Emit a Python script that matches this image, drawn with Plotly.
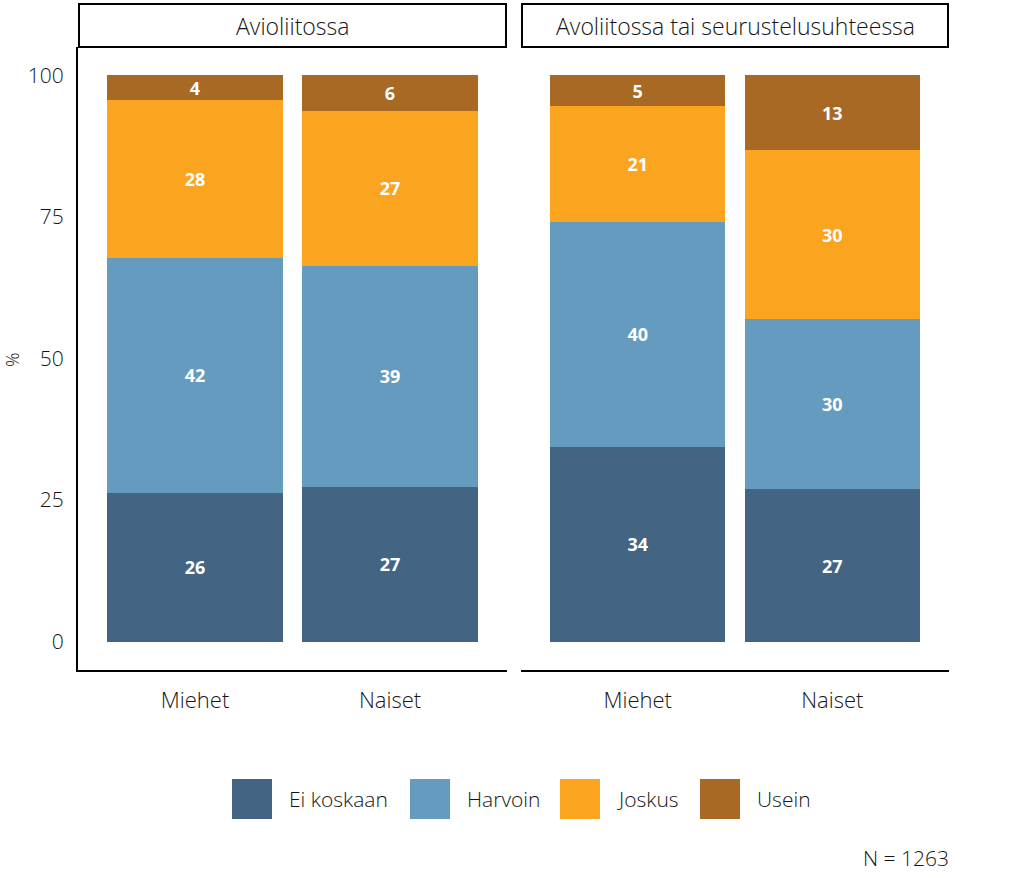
import plotly.graph_objects as go

# ---- data ----
panels = ["Avioliitossa", "Avoliitossa tai seurustelusuhteessa"]
genders = ["Miehet", "Naiset"]
series = ["Ei koskaan", "Harvoin", "Joskus", "Usein"]
colors = ["#436583", "#659bbf", "#fba41f", "#a76923"]

# values per panel: series -> [Miehet, Naiset]
avio = {
    "Ei koskaan": [26.2, 27.3],
    "Harvoin":    [41.6, 39.1],
    "Joskus":     [27.8, 27.3],
    "Usein":      [4.4, 6.3],
}
avo = {
    "Ei koskaan": [34.4, 26.9],
    "Harvoin":    [39.7, 30.0],
    "Joskus":     [20.5, 29.9],
    "Usein":      [5.4, 13.2],
}
panel_data = [avio, avo]
y_ticks = [0, 25, 50, 75, 100]
n_text = "N = 1263"

FONT = "Open Sans"
TXT = "#161616"
W, H = 1024, 878

def px_x(x):
    return x / W

def px_y(y):
    return 1 - y / H

fig = go.Figure()

x_domains = [[px_x(78), px_x(507)], [px_x(521), px_x(949)]]
y_domain = [px_y(670), px_y(47)]

for pi, data in enumerate(panel_data):
    xa = "x" if pi == 0 else "x2"
    ya = "y" if pi == 0 else "y2"
    for si, s in enumerate(series):
        fig.add_trace(go.Bar(
            x=genders, y=data[s], name=s,
            marker=dict(color=colors[si], line=dict(width=0)),
            width=0.9,
            texttemplate="%{y:.0f}",
            textposition="inside",
            insidetextanchor="middle",
            textangle=0,
            textfont=dict(family=FONT, size=18, color="white", weight="bold"),
            xaxis=xa, yaxis=ya,
            showlegend=False,
            hoverinfo="skip",
        ))

axis_common = dict(
    tickfont=dict(family=FONT, size=22, color=TXT, weight=300),
    showgrid=False, zeroline=False,
)

fig.update_layout(
    width=W, height=H,
    margin=dict(l=0, r=0, t=0, b=0),
    paper_bgcolor="white", plot_bgcolor="white",
    barmode="stack",
    bargap=0.1,
    uniformtext=dict(minsize=18, mode="show"),
    xaxis=dict(domain=x_domains[0], range=[-0.6, 1.6], showline=True,
               linecolor="black", linewidth=2, ticks="", ticklabelstandoff=10,
               **axis_common),
    xaxis2=dict(domain=x_domains[1], range=[-0.6, 1.6], showline=True,
                linecolor="black", linewidth=2, ticks="", ticklabelstandoff=10,
                anchor="y2", **axis_common),
    yaxis=dict(domain=y_domain, range=[-5, 105], tickvals=y_ticks,
               showline=True, linecolor="black", linewidth=2, ticks="",
               ticklabelstandoff=8,
               tickfont=dict(family=FONT, size=21, color=TXT, weight=300),
               showgrid=False, zeroline=False),
    yaxis2=dict(domain=y_domain, range=[-5, 105], anchor="x2",
                showticklabels=False, showline=False, ticks="",
                showgrid=False, zeroline=False),
)

# strip boxes & titles
strip_x = [(79, 506), (522, 948)]
for (x0, x1), title in zip(strip_x, panels):
    fig.add_shape(type="rect", xref="paper", yref="paper",
                  x0=px_x(x0), x1=px_x(x1), y0=px_y(47), y1=px_y(4),
                  line=dict(color="black", width=2), fillcolor="white")
    fig.add_annotation(xref="paper", yref="paper", x=px_x((x0 + x1) / 2),
                       y=px_y(26), text=title, showarrow=False,
                       xanchor="center", yanchor="middle",
                       font=dict(family=FONT, size=23, color=TXT, weight=300))

# y-axis title
fig.add_annotation(xref="paper", yref="paper", x=px_x(12), y=px_y(360),
                   text="%", showarrow=False, textangle=-90,
                   xanchor="center", yanchor="middle",
                   font=dict(family=FONT, size=18, color=TXT, weight=300))

# legend (manual, large keys)
leg_keys_x = [232, 410, 560, 700]
for i, s in enumerate(series):
    kx = leg_keys_x[i]
    fig.add_shape(type="rect", xref="paper", yref="paper",
                  x0=px_x(kx), x1=px_x(kx + 40), y0=px_y(819), y1=px_y(779),
                  line=dict(width=0), fillcolor=colors[i])
    fig.add_annotation(xref="paper", yref="paper", x=px_x(kx + 55),
                       y=px_y(799), text=s, showarrow=False,
                       xanchor="left", yanchor="middle",
                       font=dict(family=FONT, size=21, color=TXT, weight=300))

# caption
fig.add_annotation(xref="paper", yref="paper", x=px_x(951), y=px_y(858),
                   text=n_text, showarrow=False, xanchor="right",
                   yanchor="middle",
                   font=dict(family=FONT, size=21, color=TXT, weight=300))

fig.write_html("out.html", config={"displayModeBar": False},
               post_script="document.body.style.margin='0';")
